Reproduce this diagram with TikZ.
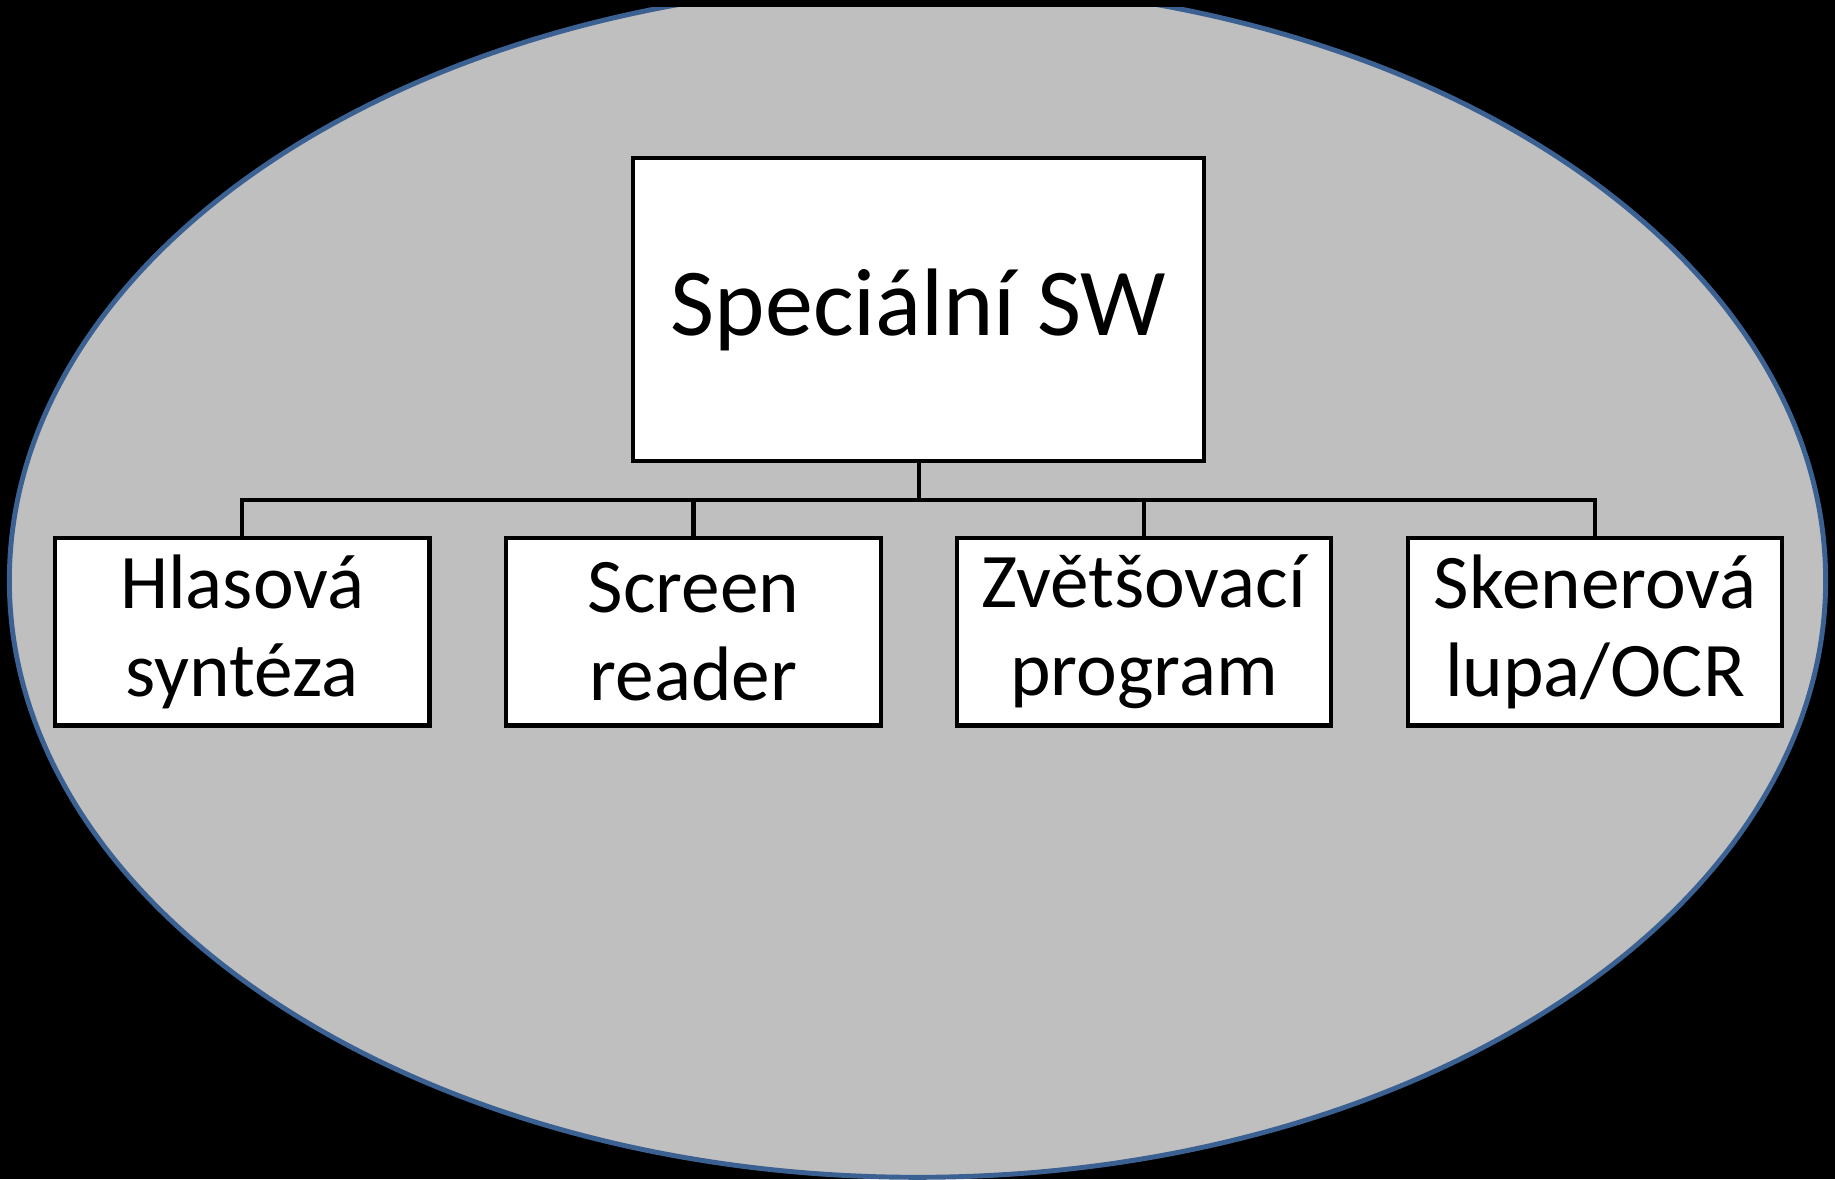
\documentclass[tikz,border=0pt]{standalone}
\usepackage{fontspec}
\setmainfont{Carlito}
\usepackage{xcolor}
\usepackage{tikz}
\usetikzlibrary{positioning}
\definecolor{ovalFill}{HTML}{BFBFBF}
\definecolor{ovalLine}{HTML}{3A6192}

\tikzset{
    topbox/.style={rectangle, draw=black, fill=white, line width=3.6pt, minimum width=488pt, minimum height=259pt, inner sep=0pt, font=\fontsize{82}{98}\selectfont},
    leafbox/.style={rectangle, draw=black, fill=white, line width=3.6pt, minimum width=320pt, minimum height=160pt, inner sep=0pt, align=center, font=\fontsize{66}{75}\selectfont},
    branch/.style={draw=black, line width=3.6pt}
}

\begin{document}
\begin{tikzpicture}[x=1pt, y=-1pt]
        % background and oval
        \fill[black] (0,0) rectangle (1568,1007.5);
        \begin{scope}
            \clip (0,6.8) rectangle (1568,1007.5);
            \draw[fill=ovalFill, draw=ovalLine, line width=4.2pt] (784,496) ellipse [x radius=776, y radius=510];
        \end{scope}

        % boxes
        \node[topbox] (sw) at (785,264.5) {Speciální SW};
        \node[leafbox] (hlas) at (207,540) {Hlasová\\syntéza};
        \node[leafbox] (reader) at (592.5,540) {Screen\\reader};
        \node[leafbox] (zoom) at (977.5,540) {Zvětšovací\\program};
        \node[leafbox] (ocr) at (1363,540) {Skenerová\\lupa/OCR};

        % connectors
        \coordinate (bus) at (785,427);
        \draw[branch] (sw.south) -- (bus);
        \draw[branch] (bus) -| (hlas.north);
        \draw[branch] (bus) -| (reader.north);
        \draw[branch] (bus) -| (zoom.north);
        \draw[branch] (bus) -| (ocr.north);
    \end{tikzpicture}
\end{document}
